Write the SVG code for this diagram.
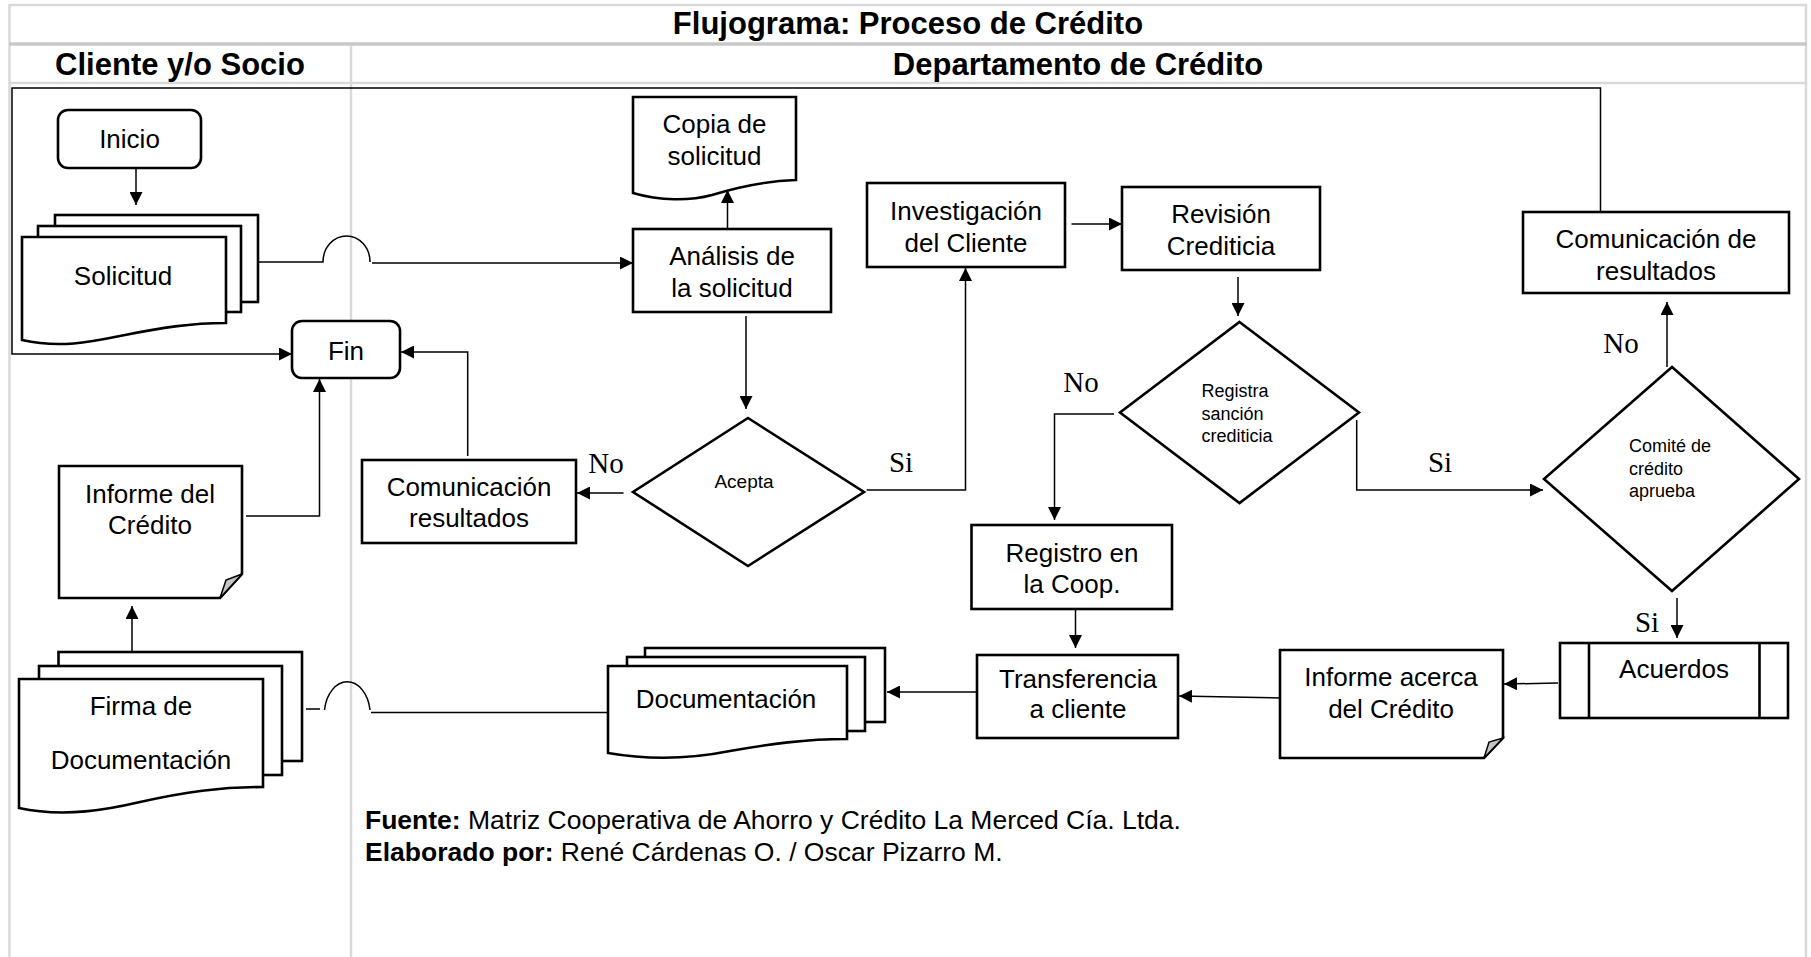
<svg xmlns="http://www.w3.org/2000/svg" width="1811" height="957" viewBox="0 0 1811 957">
  <defs>
    <marker id="arrow" viewBox="0 0 12 12" refX="12" refY="6" markerWidth="13" markerHeight="13" markerUnits="userSpaceOnUse" orient="auto">
      <path d="M0,0 L12,6 L0,12 Z" fill="#000"/>
    </marker>
    <style>
      .grid { stroke: #d9d9d9; stroke-width: 2.5; fill: none; }
      .grid-strong { stroke: #c8c8c8; stroke-width: 3.5; fill: none; }
      .shape { fill: #fff; stroke: #000; stroke-width: 2.6; }
      .fold { fill: #c4c4c4; stroke: #000; stroke-width: 1.5; }
      .conn { fill: none; stroke: #000; stroke-width: 1.5; }
      .arr { marker-end: url(#arrow); }
      .t { font-family: "Liberation Sans", Arial, sans-serif; font-size: 26px; fill: #000; text-anchor: middle; }
      .ts { font-family: "Liberation Sans", Arial, sans-serif; font-size: 18px; fill: #000; }
      .th { font-family: "Liberation Sans", Arial, sans-serif; font-size: 31px; font-weight: bold; fill: #000; text-anchor: middle; }
      .lbl { font-family: "Liberation Serif", "Times New Roman", serif; font-size: 29px; fill: #000; text-anchor: middle; }
      .foot { font-family: "Liberation Sans", Arial, sans-serif; font-size: 26.5px; fill: #000; }
      .b { font-weight: bold; }
    </style>
  </defs>
  <rect width="1811" height="957" fill="#fff"/>

  <!-- swimlane table -->
  <g id="table">
    <line class="grid" x1="9" y1="5" x2="1807" y2="5"/>
    <line class="grid" x1="9.5" y1="4" x2="9.5" y2="957"/>
    <line class="grid" x1="1806" y1="4" x2="1806" y2="957"/>
    <line class="grid-strong" x1="9" y1="44" x2="1807" y2="44"/>
    <line class="grid" x1="9" y1="83" x2="1807" y2="83"/>
    <line class="grid" x1="351" y1="46" x2="351" y2="957"/>
    <text class="th" x="908" y="34">Flujograma: Proceso de Crédito</text>
    <text class="th" x="180" y="75">Cliente y/o Socio</text>
    <text class="th" x="1078" y="75">Departamento de Crédito</text>
  </g>

  <!-- connectors -->
  <g id="connectors">
    <path class="conn arr" d="M136,168 V205"/>
    <path class="conn" d="M259,262 H323 A23.5,26 0 0 1 370,262"/>
    <path class="conn arr" d="M372,263 H633"/>
    <path class="conn arr" d="M727.5,229 V190"/>
    <path class="conn arr" d="M746,316 V409"/>
    <path class="conn arr" d="M623.5,493 H577"/>
    <path class="conn arr" d="M866.7,490 H965.5 V268"/>
    <path class="conn arr" d="M1071.5,224 H1122"/>
    <path class="conn arr" d="M1238,277 V316"/>
    <path class="conn arr" d="M1114,414 H1054.5 V520"/>
    <path class="conn arr" d="M1356.7,420 V490 H1543"/>
    <path class="conn arr" d="M1667,367 V302"/>
    <path class="conn arr" d="M1677,598 V638"/>
    <path class="conn arr" d="M1558,683 L1504,684"/>
    <path class="conn arr" d="M1280,698 L1179,696"/>
    <path class="conn arr" d="M1075.5,609 V648"/>
    <path class="conn arr" d="M977,692 H887"/>
    <path class="conn" d="M609.6,712.5 H371 M370,710 A23,33 0 0 0 324.5,710 M320,709 H306"/>
    <path class="conn arr" d="M132,652 V606"/>
    <path class="conn arr" d="M246,516 H319.5 V379"/>
    <path class="conn arr" d="M467.7,456 V352 H401"/>
    <path class="conn arr" d="M1600.5,212 V88 H12 V354 H292"/>
    <text class="lbl" x="606" y="473">No</text>
    <text class="lbl" x="901" y="472">Si</text>
    <text class="lbl" x="1081" y="392">No</text>
    <text class="lbl" x="1440" y="472">Si</text>
    <text class="lbl" x="1621" y="353">No</text>
    <text class="lbl" x="1647" y="632">Si</text>
  </g>

  <g id="inicio">
    <rect class="shape" x="58" y="110" width="143" height="58" rx="10"/>
    <text class="t" x="129.5" y="148">Inicio</text>
  </g>

  <g id="solicitud">
    <rect class="shape" x="55" y="215" width="203" height="87"/>
    <rect class="shape" x="38" y="226" width="203" height="86"/>
    <path class="shape" d="M22,237 H226 V323 C190,323 160,328 125,335 C95,341 62,349 22,340 Z"/>
    <text class="t" x="123" y="285">Solicitud</text>
  </g>

  <g id="copia-solicitud">
    <path class="shape" d="M633,97 H796 V180 C765,181 738,187 712,195 C690,201 660,201 633,193 Z"/>
    <text class="t" x="714.5" y="133">Copia de</text>
    <text class="t" x="714.5" y="165">solicitud</text>
  </g>

  <g id="analisis">
    <rect class="shape" x="633" y="229" width="198" height="83"/>
    <text class="t" x="732" y="265">Análisis de</text>
    <text class="t" x="732" y="297">la solicitud</text>
  </g>

  <g id="investigacion">
    <rect class="shape" x="867" y="183" width="198" height="84"/>
    <text class="t" x="966" y="220">Investigación</text>
    <text class="t" x="966" y="252">del Cliente</text>
  </g>

  <g id="revision">
    <rect class="shape" x="1122" y="187" width="198" height="83"/>
    <text class="t" x="1221" y="223">Revisión</text>
    <text class="t" x="1221" y="255">Crediticia</text>
  </g>

  <g id="comunicacion-de-resultados">
    <rect class="shape" x="1523" y="212" width="266" height="81"/>
    <text class="t" x="1656" y="248">Comunicación de</text>
    <text class="t" x="1656" y="280">resultados</text>
  </g>

  <g id="fin">
    <rect class="shape" x="292" y="321" width="108" height="57" rx="10"/>
    <text class="t" x="346" y="360">Fin</text>
  </g>

  <g id="informe-del-credito">
    <path class="shape" d="M59,466 H242 V574 L220,598 H59 Z"/>
    <path class="fold" d="M220,598 L226,580 L242,574 Z"/>
    <text class="t" x="150" y="503">Informe del</text>
    <text class="t" x="150" y="534">Crédito</text>
  </g>

  <g id="comunicacion-resultados">
    <rect class="shape" x="362" y="460" width="214" height="83"/>
    <text class="t" x="469" y="496">Comunicación</text>
    <text class="t" x="469" y="527">resultados</text>
  </g>

  <g id="acepta">
    <path class="shape" d="M748,418 L864,492 L748,566 L633,492 Z"/>
    <text class="ts" x="744" y="488" text-anchor="middle" style="font-size:19px">Acepta</text>
  </g>

  <g id="registra-sancion">
    <path class="shape" d="M1239.5,322 L1359,412.5 L1239.5,503 L1120,412.5 Z"/>
    <text class="ts" x="1201.5" y="397">Registra</text>
    <text class="ts" x="1201.5" y="420">sanción</text>
    <text class="ts" x="1201.5" y="442">crediticia</text>
  </g>

  <g id="comite">
    <path class="shape" d="M1672,367 L1799,479 L1672,591 L1544,479 Z"/>
    <text class="ts" x="1629" y="452">Comité de</text>
    <text class="ts" x="1629" y="475">crédito</text>
    <text class="ts" x="1629" y="497">aprueba</text>
  </g>

  <g id="acuerdos">
    <rect class="shape" x="1560" y="643" width="228" height="75"/>
    <line class="shape" x1="1589" y1="643" x2="1589" y2="718"/>
    <line class="shape" x1="1759.5" y1="643" x2="1759.5" y2="718"/>
    <text class="t" x="1674" y="678">Acuerdos</text>
  </g>

  <g id="informe-acerca">
    <path class="shape" d="M1280,650 H1503 V738 L1484,758 H1280 Z"/>
    <path class="fold" d="M1484,758 L1489,742 L1503,738 Z"/>
    <text class="t" x="1391" y="686">Informe acerca</text>
    <text class="t" x="1391" y="718">del Crédito</text>
  </g>

  <g id="registro">
    <rect class="shape" x="971.5" y="525" width="200.5" height="84"/>
    <text class="t" x="1072" y="562">Registro en</text>
    <text class="t" x="1072" y="593">la Coop.</text>
  </g>

  <g id="transferencia">
    <rect class="shape" x="977" y="655" width="201" height="83"/>
    <text class="t" x="1078" y="688">Transferencia</text>
    <text class="t" x="1078" y="718">a cliente</text>
  </g>

  <g id="documentacion">
    <rect class="shape" x="645" y="648" width="240" height="74"/>
    <rect class="shape" x="627" y="657" width="238" height="74"/>
    <path class="shape" d="M608,666 H847 V739 C805,739 770,744 730,751 C705,756 660,762 608,753 Z"/>
    <text class="t" x="726" y="708">Documentación</text>
  </g>

  <g id="firma-documentacion">
    <rect class="shape" x="58.5" y="652" width="243.5" height="109"/>
    <rect class="shape" x="39" y="666" width="243" height="109"/>
    <path class="shape" d="M19,679 H263 V787 C220,787 185,792 140,802 C110,809 65,818 19,808 Z"/>
    <text class="t" x="141" y="715">Firma de</text>
    <text class="t" x="141" y="769">Documentación</text>
  </g>

  <g id="fuente">
    <text class="foot" x="365" y="829"><tspan class="b">Fuente:</tspan> Matriz Cooperativa de Ahorro y Crédito La Merced Cía. Ltda.</text>
    <text class="foot" x="365" y="861"><tspan class="b">Elaborado por:</tspan> René Cárdenas O. / Oscar Pizarro M.</text>
  </g>
</svg>
